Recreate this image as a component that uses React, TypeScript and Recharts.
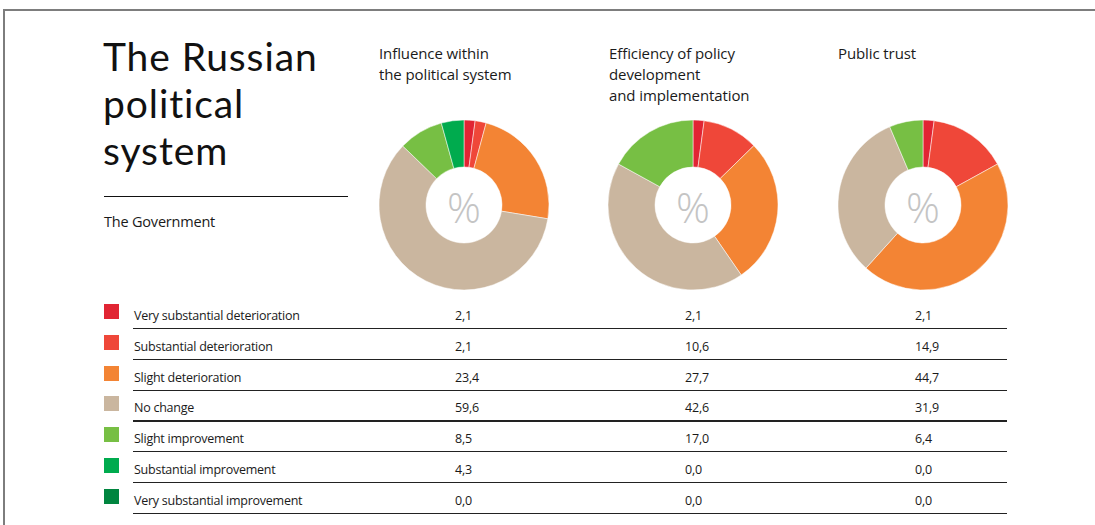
import React from 'react';
import { PieChart, Pie, Cell } from 'recharts';

const categories = [
  'Very substantial deterioration',
  'Substantial deterioration',
  'Slight deterioration',
  'No change',
  'Slight improvement',
  'Substantial improvement',
  'Very substantial improvement',
];

const colors = ['#e12533', '#ef4739', '#f38434', '#cab69f', '#77bf44', '#00ab4e', '#00853f'];

const influence = [2.1, 2.1, 23.4, 59.6, 8.5, 4.3, 0.0];
const efficiency = [2.1, 10.6, 27.7, 42.6, 17.0, 0.0, 0.0];
const trust = [2.1, 14.9, 44.7, 31.9, 6.4, 0.0, 0.0];

const titleLines = ['The Russian', 'political', 'system'];
const pieTitles = [
  ['Influence within', 'the political system'],
  ['Efficiency of policy', 'development', 'and implementation'],
  ['Public trust'],
];

const series = [influence, efficiency, trust];
const pieCx = [464, 693, 923];
const titleX = [379, 609, 838];
const valueX = [455, 685, 915];

const FONT = '"Open Sans", "Noto Sans", sans-serif';

const toRows = (values: number[]) => categories.map((name, i) => ({ name, value: values[i] }));
const fmt = (v: number) => v.toFixed(1).replace('.', ',');

export default function App() {
  const rowLineY = (i: number) => 328 + i * 30.75;

  return (
    <div
      style={{
        position: 'absolute',
        left: 0,
        top: 0,
        width: 1095,
        height: 525,
        background: '#fff',
        overflow: 'hidden',
        fontFamily: FONT,
        color: '#1a1a1a',
      }}
    >
      {/* frame */}
      <div style={{ position: 'absolute', left: 3, top: 9, width: 1092, height: 2, background: '#7d7d7d' }} />
      <div style={{ position: 'absolute', left: 3, top: 9, width: 2, height: 516, background: '#7d7d7d' }} />

      {/* main title */}
      {titleLines.map((line, i) => (
        <div
          key={line}
          style={{
            position: 'absolute',
            left: 103,
            top: 33 + i * 47,
            height: 47,
            fontFamily: 'Lato, sans-serif',
            fontSize: 39,
            lineHeight: '47px',
            letterSpacing: 0.9,
            whiteSpace: 'nowrap',
            color: '#111',
          }}
        >
          {line}
        </div>
      ))}
      <div style={{ position: 'absolute', left: 104, top: 196, width: 244, height: 1, background: '#111' }} />
      <div style={{ position: 'absolute', left: 104, top: 212, fontSize: 14.5, lineHeight: '20px', letterSpacing: -0.2 }}>
        The Government
      </div>

      {/* pie titles */}
      {pieTitles.map((lines, k) => (
        <div
          key={k}
          style={{
            position: 'absolute',
            left: titleX[k],
            top: 43,
            fontSize: 15,
            lineHeight: '21px',
            letterSpacing: -0.1,
          }}
        >
          {lines.map((l, j) => (
            <div key={j}>{l}</div>
          ))}
        </div>
      ))}

      {/* pies */}
      <div style={{ position: 'absolute', left: 0, top: 0 }}>
        <PieChart width={1095} height={300} margin={{ top: 0, right: 0, bottom: 0, left: 0 }}>
          {series.map((vals, k) => (
            <Pie
              key={k}
              data={toRows(vals)}
              dataKey="value"
              nameKey="name"
              cx={pieCx[k]}
              cy={205}
              innerRadius={38}
              outerRadius={85}
              startAngle={90}
              endAngle={-270}
              stroke="#ffffff"
              strokeWidth={0.5}
              isAnimationActive={false}
            >
              {vals.map((_, i) => (
                <Cell key={i} fill={colors[i]} />
              ))}
            </Pie>
          ))}
          {pieCx.map((cx, k) => (
            <text
              key={k}
              x={cx}
              y={206}
              textAnchor="middle"
              dominantBaseline="central"
              fill="#c4c4c4"
              fontSize={42}
              fontWeight={300}
              fontFamily={FONT}
            >
              %
            </text>
          ))}
        </PieChart>
      </div>

      {/* table */}
      {categories.map((name, i) => {
        const y = rowLineY(i);
        return (
          <React.Fragment key={name}>
            <div style={{ position: 'absolute', left: 104, top: y - 24, width: 15, height: 15, background: colors[i] }} />
            <div
              style={{
                position: 'absolute',
                left: 134,
                top: y - 21,
                fontSize: 12.5,
                lineHeight: '18px',
                letterSpacing: -0.25,
              }}
            >
              {name}
            </div>
            {series.map((vals, k) => (
              <div
                key={k}
                style={{
                  position: 'absolute',
                  left: valueX[k],
                  top: y - 21,
                  fontSize: 12.5,
                  lineHeight: '18px',
                  letterSpacing: -0.2,
                }}
              >
                {fmt(vals[i])}
              </div>
            ))}
            <div style={{ position: 'absolute', left: 133, top: y, width: 874, height: 1.3, background: '#222' }} />
          </React.Fragment>
        );
      })}
    </div>
  );
}
